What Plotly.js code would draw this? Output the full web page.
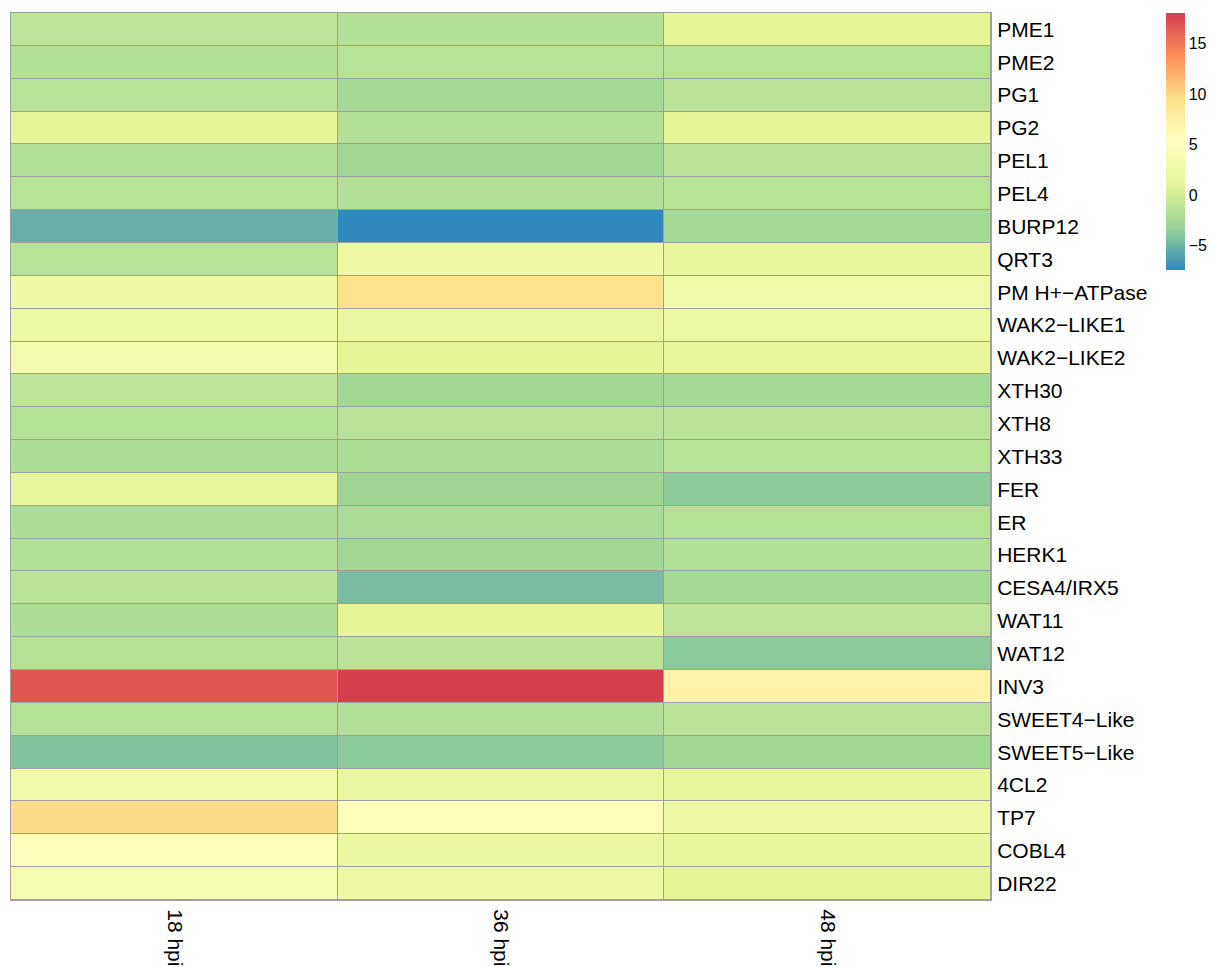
<!DOCTYPE html>
<html>
<head>
<meta charset="utf-8">
<script src="https://cdn.plot.ly/plotly-3.0.1.min.js"></script>
<style>html,body{margin:0;padding:0;background:#fff;}#chart{width:1214px;height:967px;}</style>
</head>
<body>
<div id="chart"></div>
<script>
const genes = ["PME1","PME2","PG1","PG2","PEL1","PEL4","BURP12","QRT3","PM H+\u2212ATPase","WAK2\u2212LIKE1","WAK2\u2212LIKE2","XTH30","XTH8","XTH33","FER","ER","HERK1","CESA4/IRX5","WAT11","WAT12","INV3","SWEET4\u2212Like","SWEET5\u2212Like","4CL2","TP7","COBL4","DIR22"];
const timepoints = ["18 hpi","36 hpi","48 hpi"];
const hpi18 = [-1.2,-1.8,-1.5,1.1,-1.8,-1.5,-5.2,-1.5,2.5,2.2,3.3,-1.2,-1.6,-2.1,1.3,-2.1,-1.9,-1.3,-2.1,-1.6,16.8,-1.6,-4.2,3.0,9.8,5.0,3.5];
const hpi36 = [-1.7,-1.5,-2.5,-1.7,-2.8,-1.8,-7.4,2.5,9.3,1.9,1.2,-2.7,-1.4,-2.1,-2.9,-2.2,-2.8,-4.5,1.2,-1.3,18.0,-1.8,-3.8,2.0,4.8,2.0,2.4];
const hpi48 = [1.2,-1.5,-1.3,1.2,-1.3,-1.5,-2.5,1.5,2.7,2.2,1.5,-2.5,-1.3,-1.5,-3.7,-1.6,-1.9,-2.5,-1.2,-3.8,7.0,-1.3,-2.8,1.6,2.5,1.6,1.2];
const colorbarTicks = [-5,0,5,10,15];

const z = genes.map((g,i)=>[hpi18[i],hpi36[i],hpi48[i]]);
const all = hpi18.concat(hpi36,hpi48);
const zmin = Math.min(...all), zmax = Math.max(...all);

const spectral = ["#3288BD","#99D594","#E6F598","#FFFFBF","#FEE08B","#FC8D59","#D53E4F"];
const colorscale = spectral.map((c,i)=>[i/(spectral.length-1),c]);

const font = "Liberation Sans, Arial, Helvetica, sans-serif";

const trace = {
  type:"heatmap",
  x: timepoints,
  y: genes,
  z: z,
  zmin: zmin, zmax: zmax,
  colorscale: colorscale,
  xgap: 1, ygap: 1,
  hoverongaps:false,
  colorbar:{
    x: (1166-11)/980, xanchor:"left", xpad:0, ypad:0,
    y: 1, yanchor:"top",
    thickness: 19, thicknessmode:"pixels",
    len: 257, lenmode:"pixels",
    outlinewidth: 0,
    tickvals: colorbarTicks,
    ticks: "",
    tickfont:{family:font,size:16,color:"#000"}
  }
};

const layout = {
  width:1214, height:967,
  margin:{l:11,r:223,t:13,b:67,pad:0},
  paper_bgcolor:"#fff",
  plot_bgcolor:"#A0A0A0",
  font:{family:font,color:"#000"},
  xaxis:{
    type:"category", tickangle:90, showgrid:false, zeroline:false, ticks:"",
    tickfont:{family:font,size:21,color:"#000"},
    showline:true, mirror:true, linecolor:"#A0A0A0", linewidth:1,
    ticklabelstandoff:4
  },
  yaxis:{
    type:"category", autorange:"reversed", side:"right", showgrid:false, zeroline:false, ticks:"",
    tickfont:{family:font,size:21,color:"#000"},
    showline:true, mirror:true, linecolor:"#A0A0A0", linewidth:1,
    ticklabelstandoff:1
  }
};

Plotly.newPlot("chart",[trace],layout,{displayModeBar:false,staticPlot:true});
</script>
</body>
</html>
